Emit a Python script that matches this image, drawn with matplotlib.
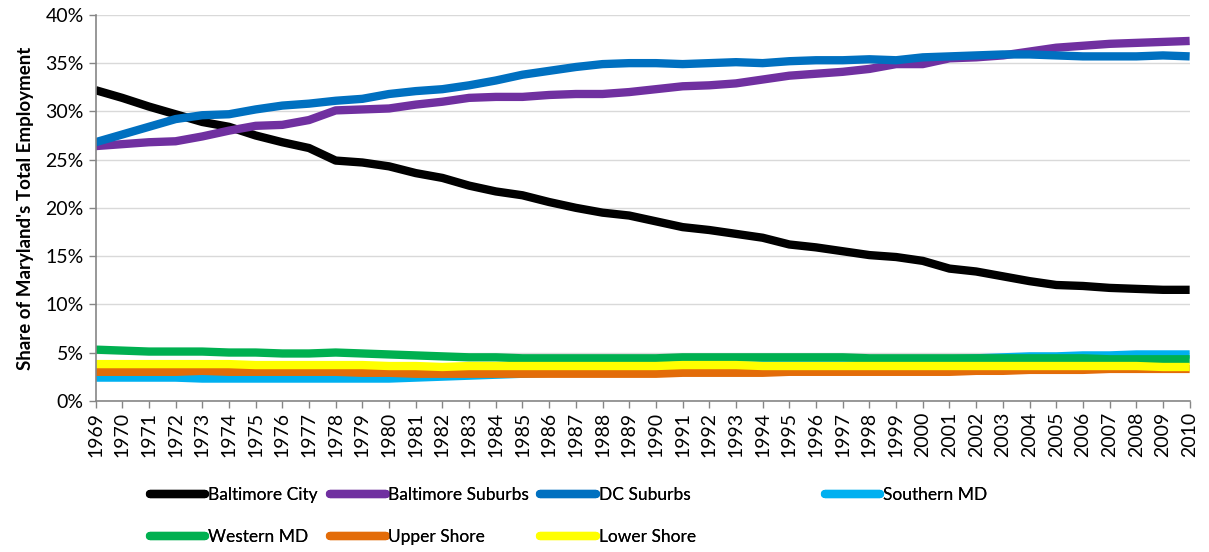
import numpy as np
import matplotlib.pyplot as plt
from matplotlib.ticker import PercentFormatter

plt.rcParams['font.family'] = ['Lato', 'DejaVu Sans']

years = list(range(1969, 2011))

baltimore_city = [32.2, 31.4, 30.5, 29.7, 28.9, 28.4, 27.5, 26.8, 26.2, 24.9,
                  24.7, 24.3, 23.6, 23.1, 22.3, 21.7, 21.3, 20.6, 20.0, 19.5,
                  19.2, 18.6, 18.0, 17.7, 17.3, 16.9, 16.2, 15.9, 15.5, 15.1,
                  14.9, 14.5, 13.7, 13.4, 12.9, 12.4, 12.0, 11.9, 11.7, 11.6,
                  11.5, 11.5]
baltimore_suburbs = [26.4, 26.6, 26.8, 26.9, 27.4, 28.0, 28.5, 28.6, 29.1, 30.1,
                     30.2, 30.3, 30.7, 31.0, 31.4, 31.5, 31.5, 31.7, 31.8, 31.8,
                     32.0, 32.3, 32.6, 32.7, 32.9, 33.3, 33.7, 33.9, 34.1, 34.4,
                     34.9, 34.9, 35.5, 35.6, 35.8, 36.2, 36.6, 36.8, 37.0, 37.1,
                     37.2, 37.3]
dc_suburbs = [26.8, 27.6, 28.4, 29.2, 29.6, 29.7, 30.2, 30.6, 30.8, 31.1,
              31.3, 31.8, 32.1, 32.3, 32.7, 33.2, 33.8, 34.2, 34.6, 34.9,
              35.0, 35.0, 34.9, 35.0, 35.1, 35.0, 35.2, 35.3, 35.3, 35.4,
              35.3, 35.6, 35.7, 35.8, 35.9, 35.9, 35.8, 35.7, 35.7, 35.7,
              35.8, 35.7]
southern_md = [2.4, 2.4, 2.4, 2.4, 2.3, 2.3, 2.3, 2.3, 2.3, 2.3,
               2.3, 2.3, 2.4, 2.5, 2.6, 2.7, 2.8, 2.9, 3.0, 3.1,
               3.2, 3.3, 3.4, 3.5, 3.6, 3.7, 3.8, 3.9, 4.0, 4.1,
               4.1, 4.2, 4.3, 4.4, 4.5, 4.6, 4.6, 4.7, 4.7, 4.8,
               4.8, 4.8]
western_md = [5.3, 5.2, 5.1, 5.1, 5.1, 5.0, 5.0, 4.9, 4.9, 5.0,
              4.9, 4.8, 4.7, 4.6, 4.5, 4.5, 4.4, 4.4, 4.4, 4.4,
              4.4, 4.4, 4.5, 4.5, 4.5, 4.5, 4.5, 4.5, 4.5, 4.4,
              4.4, 4.4, 4.4, 4.4, 4.4, 4.4, 4.4, 4.4, 4.3, 4.3,
              4.3, 4.3]
upper_shore = [3.0, 3.0, 3.0, 3.0, 3.1, 3.0, 3.0, 3.0, 3.0, 3.0,
               2.9, 2.9, 2.8, 2.8, 2.8, 2.8, 2.8, 2.8, 2.8, 2.8,
               2.8, 2.8, 2.9, 2.9, 2.9, 2.9, 3.0, 3.0, 3.0, 3.0,
               3.0, 3.0, 3.0, 3.1, 3.1, 3.2, 3.2, 3.2, 3.3, 3.3,
               3.3, 3.3]
lower_shore = [3.8, 3.8, 3.8, 3.8, 3.8, 3.8, 3.7, 3.7, 3.7, 3.7,
               3.7, 3.6, 3.6, 3.5, 3.6, 3.6, 3.6, 3.6, 3.6, 3.6,
               3.6, 3.6, 3.7, 3.7, 3.7, 3.6, 3.6, 3.6, 3.6, 3.6,
               3.6, 3.6, 3.6, 3.6, 3.6, 3.6, 3.6, 3.6, 3.6, 3.6,
               3.5, 3.5]

names = ['Baltimore City', 'Baltimore Suburbs', 'DC Suburbs', 'Southern MD',
         'Western MD', 'Upper Shore', 'Lower Shore']
values = [baltimore_city, baltimore_suburbs, dc_suburbs, southern_md,
          western_md, upper_shore, lower_shore]
colors = ['#000000', '#7030a0', '#0070c0', '#00b0f0',
          '#00b050', '#e36c09', '#ffff00']

# legend slots like Excel's grid (figure fraction)
leg_pos = [(0.124, 0.103), (0.273, 0.103), (0.447, 0.103), (0.682, 0.103),
           (0.124, 0.027), (0.273, 0.027), (0.447, 0.027)]

fig = plt.figure(figsize=(12.09, 5.52), dpi=100)
ax = fig.add_axes([0.079, 0.274, 0.905, 0.699])

lines = []
for name, vals, col in zip(names, values, colors):
    ln, = ax.plot(years, vals, color=col, lw=6.0, solid_capstyle='butt',
                  solid_joinstyle='round', label=name)
    lines.append(ln)

ax.set_xlim(1969, 2010)
ax.set_ylim(0, 40)
ax.set_yticks(np.arange(0, 41, 5))
ax.yaxis.set_major_formatter(PercentFormatter(decimals=0))
ax.set_xticks(years)
ax.set_xticklabels([str(y) for y in years], rotation=90)
ax.tick_params(axis='both', labelsize=14, colors='#868686', labelcolor='black',
               length=5, width=1)
ax.tick_params(axis='x', pad=3)
ax.grid(axis='y', color='#d9d9d9', lw=1)
ax.set_axisbelow(True)
for s in ['top', 'right']:
    ax.spines[s].set_visible(False)
for s in ['left', 'bottom']:
    ax.spines[s].set_color('#868686')
    ax.spines[s].set_linewidth(1.2)
ax.set_ylabel("Share of Maryland's Total Employment", fontsize=13.5,
              fontweight='bold', labelpad=8)

for ln, name, pos in zip(lines, names, leg_pos):
    leg = fig.legend([ln], [name], frameon=False, loc='center left',
                     bbox_to_anchor=pos, handlelength=3.2, fontsize=12.5,
                     handletextpad=0.15, borderaxespad=0, borderpad=0)
    for h in leg.legend_handles:
        h.set_solid_capstyle('round')
    fig.add_artist(leg)

fig.savefig('out.png', dpi=100)
